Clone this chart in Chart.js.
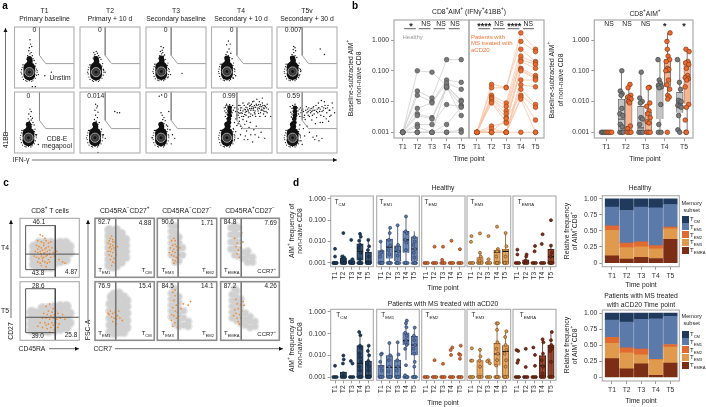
<!DOCTYPE html>
<html>
<head>
<meta charset="utf-8">
<script src="https://cdn.jsdelivr.net/npm/chart.js@4"></script>
<style>
  html, body { margin: 0; padding: 0; background: #fff; }
  #page { position: relative; width: 706px; height: 407px; overflow: hidden; }
  #page canvas { position: absolute; left: 0; top: 0; }
  .lbl { position: absolute; white-space: nowrap; font-family: "Liberation Sans", Arial, sans-serif; color: #222; line-height: 1; z-index: 5; }
  .lbl sup, .lbl sub { font-size: 68%; line-height: 0; }
  .swatch { position: absolute; width: 7.4px; height: 7px; z-index: 5; }
</style>
</head>
<body>
<div id="page"></div>
<script>
// ---------- shared categories / ticks
const timePoints = ["T1", "T2", "T3", "T4", "T5"];
const logTicks = [0.001, 0.01, 0.1, 1];
const fracTicks = [0, 0.25, 0.5, 0.75, 1];
const subsets = ["TCM", "TEM1", "TEM2", "TEM3", "TEMRA"];

// ---------- panel a: events on a 0-100 display scale
const aGate = [[42, 100], [42, 53.5], [52.5, 40], [100, 40]];
const aCentres = [[25, 26], [26.7, 26], [25.5, 27], [25.5, 27], [26, 27], [23.5, 25], [25, 25], [25, 25], [25.5, 25], [26, 25]];
const aBody = [[0, -4], [0, 2], [0, 7]];
const aNeck = [[0, 14], [1, 18], [0, 22]];
const aHalo = [[-13, -3], [-12, -8], [-13, 4], [-12, 8], [-10, -12], [-6, -14], [0, -14], [6, -13], [10, -10], [12, -5], [13, 0], [12, 5], [10, 10], [-9, 12], [-14, 0], [13, 3], [-4, -15], [4, -15], [-11, 12], [11, 14]];

const aT1u = [[26, 79], [27, 72], [25, 66], [29, 68], [24, 61], [28, 58], [26, 56], [30, 53], [22, 53], [27, 50], [24, 49], [31, 48], [21, 47], [29, 46], [33, 45], [62, 26], [51, 20], [35, 2], [30, 2], [40, 22]];
const aT2u = [[27, 60], [29, 57], [25, 55], [31, 53], [24, 52], [28, 51], [33, 50], [22, 49], [30, 48], [35, 47], [26, 47], [39, 30], [42, 26], [23, 58]];
const aT3u = [[25, 68], [29, 66], [27, 62], [24, 60], [28, 58], [26, 56], [31, 54], [23, 53], [29, 52], [27, 49], [32, 47], [22, 48], [60, 24], [41, 22], [37, 18]];
const aT4u = [[28, 77], [31, 72], [25, 71], [29, 64], [26, 59], [32, 57], [24, 55], [28, 53], [30, 50], [23, 49], [34, 48], [27, 47], [0, 24], [40, 20], [36, 16]];
const aT5u = [[28, 68], [30, 66], [27, 63], [31, 61], [28, 58], [25, 55], [30, 53], [23, 51], [33, 50], [27, 49], [72, 64], [79, 55], [40, 28], [37, 20]];
const aT1s = [[26, 72], [28, 68], [24, 64], [27, 60], [30, 57], [23, 56], [28, 54], [25, 52], [31, 50], [21, 49], [29, 47], [33, 46], [25, 46], [37, 30], [40, 14]];
const aT2s = [[26, 80], [29, 77], [28, 74], [25, 70], [30, 67], [26, 62], [29, 58], [24, 55], [27, 52], [32, 50], [22, 48], [30, 47], [58, 68], [62, 66], [66, 66], [39, 30], [42, 24], [30, 1]];
const aT3s = [[22, 93], [26, 95], [27, 62], [25, 66], [30, 58], [28, 55], [32, 53], [26, 50], [30, 48], [36, 44], [24, 47], [34, 46], [40, 38], [44, 30], [48, 24], [42, 15], [10, 25], [38, 68]];
const aT4s = [[26, 44], [28, 47], [24, 50], [30, 49], [27, 53], [25, 56], [31, 55], [28, 58], [23, 60], [29, 61], [33, 60], [26, 63], [31, 65], [24, 66], [28, 67], [34, 66], [22, 69], [27, 70], [32, 71], [25, 72], [36, 70], [29, 74], [23, 75], [33, 75], [27, 77], [38, 74], [30, 79], [25, 80], [35, 78], [21, 74], [26, 52], [30, 59], [27, 64], [31, 73], [24, 78], [29, 69],
  [40, 68], [44, 72], [47, 65], [50, 74], [52, 69], [55, 63], [57, 75], [60, 71], [62, 66], [64, 78], [66, 73], [68, 62], [70, 75], [72, 69], [74, 80], [76, 72], [78, 65], [80, 76], [82, 70], [84, 82], [86, 74], [88, 78], [90, 68], [92, 66], [94, 72], [42, 62], [46, 58], [49, 66], [53, 60], [58, 68], [61, 59], [65, 64], [69, 70], [73, 60], [77, 74], [81, 66], [85, 70], [89, 60], [79, 84], [70, 85], [60, 80], [52, 82], [45, 78], [66, 80], [75, 88], [84, 90], [92, 80], [98, 60], [48, 70], [56, 71], [63, 73], [71, 78], [78, 79], [83, 76], [87, 73],
  [41, 74], [43, 68], [45, 66], [48, 74], [51, 65], [54, 72], [56, 67], [59, 74], [61, 69], [63, 77], [65, 70], [67, 76], [69, 73], [71, 66], [73, 75], [75, 78], [77, 69], [79, 73], [81, 79], [83, 72], [85, 78], [87, 68], [89, 76], [91, 74], [44, 62], [50, 60], [57, 62], [64, 60], [72, 64], [80, 60], [86, 64], [47, 78], [54, 78], [62, 82], [68, 84],
  [38, 50], [42, 45], [46, 52], [50, 40], [55, 47], [58, 36], [62, 42], [65, 30], [70, 38], [74, 44], [78, 26], [82, 34], [88, 24], [60, 22], [48, 30], [44, 24], [40, 35], [68, 18], [56, 28], [36, 40], [34, 30], [38, 22], [52, 55], [58, 52], [64, 50], [44, 48], [40, 56], [48, 44], [72, 30], [54, 22]];
const aT5s = [[27, 44], [29, 48], [25, 51], [31, 50], [26, 55], [30, 57], [24, 59], [28, 60], [32, 61], [25, 64], [29, 66], [33, 65], [23, 67], [27, 69], [31, 71], [35, 69], [25, 73], [29, 75], [34, 74], [26, 78], [30, 80], [37, 72], [22, 76],
  [40, 66], [43, 72], [46, 62], [49, 76], [52, 68], [54, 60], [57, 73], [60, 70], [62, 64], [65, 78], [67, 72], [69, 82], [71, 68], [73, 62], [75, 76], [77, 70], [79, 84], [81, 73], [83, 66], [85, 78], [87, 70], [90, 62], [93, 74], [96, 66], [42, 60], [47, 55], [51, 72], [56, 66], [61, 76], [66, 58], [70, 74], [74, 86], [78, 60], [82, 56], [86, 52], [72, 50], [58, 54], [64, 48], [76, 50], [88, 60], [92, 82], [68, 66],
  [39, 74], [41, 70], [44, 68], [48, 70], [50, 66], [53, 74], [55, 70], [58, 68], [60, 74], [63, 70], [66, 68], [69, 74], [72, 72], [75, 68], [78, 74], [80, 78], [84, 74], [88, 70], [36, 64], [38, 60], [45, 58], [52, 62], [59, 62],
  [38, 46], [44, 40], [50, 44], [54, 34], [46, 28], [40, 20], [60, 26], [63, 22], [66, 28], [70, 20], [75, 24], [36, 32], [42, 14]];
const aColumnStim = [[28, 44], [29, 50], [29, 56], [30, 62], [30, 68], [30, 74]];

// ---------- panel b: one row per donor, T1..T5
const healthyDonors = [
  [0.001, 0.1, 0.09, 0.033, 0.011],
  [0.001, 0.022, 0.013, 0.23, 0.23],
  [0.001, 0.016, 0.01, 0.05, 0.042],
  [0.001, 0.006, 0.009, 0.04, 0.025],
  [0.001, 0.004, 0.003, 0.03, 0.01],
  [0.001, 0.0035, 0.0027, 0.028, 0.0075],
  [0.001, 0.0018, 0.0018, 0.008, 0.007],
  [0.001, 0.0015, 0.001, 0.0018, 0.0065],
  [0.001, 0.001, 0.001, 0.03, 0.0035],
  [0.001, 0.001, 0.001, 0.001, 0.0012],
  [0.001, 0.001, 0.001, 0.001, 0.001]
];
const patientDonors = [
  [0.001, 0.036, 0.029, 1.7, 0.5],
  [0.001, 0.028, 0.028, 0.9, 0.42],
  [0.001, 0.016, 0.009, 0.5, 0.2],
  [0.001, 0.014, 0.007, 0.3, 0.18],
  [0.001, 0.013, 0.005, 0.23, 0.16],
  [0.001, 0.012, 0.004, 0.2, 0.12],
  [0.001, 0.01, 0.003, 0.12, 0.07],
  [0.001, 0.009, 0.0022, 0.11, 0.06],
  [0.001, 0.0016, 0.002, 0.1, 0.055],
  [0.001, 0.0013, 0.001, 0.05, 0.05],
  [0.001, 0.001, 0.001, 0.035, 0.03],
  [0.001, 0.001, 0.001, 0.025, 0.008],
  [0.001, 0.001, 0.0028, 0.016, 0.0065],
  [0.001, 0.001, 0.001, 0.014, 0.0025],
  [0.001, 0.001, 0.001, 0.012, 0.001],
  [0.001, 0.001, 0.001, 0.001, 0.001]
];
const sigLines = [[1.1, 1.9], [2.1, 2.9], [3.1, 3.9], [4.15, 4.9]];
const bBoxHealthy = [[1.78, 0.001, 0.001, 0.0027, 0.012, 0.1], [2.78, 0.001, 0.001, 0.0014, 0.007, 0.09], [3.76, 0.001, 0.0027, 0.03, 0.04, 0.23], [4.78, 0.001, 0.0043, 0.009, 0.02, 0.23]];
const bBoxPatient = [[2.16, 0.001, 0.0011, 0.0015, 0.014, 0.036], [3.16, 0.001, 0.001, 0.002, 0.0045, 0.029], [4.15, 0.012, 0.03, 0.09, 0.23, 1.7], [5.16, 0.001, 0.0085, 0.06, 0.2, 0.5]];
const bDotsHealthy = [[0.75, 0.001], [0.82, 0.001], [0.9, 0.001], [0.97, 0.001],
  [1.8, 0.1], [1.72, 0.022], [1.82, 0.018], [1.76, 0.016], [1.8, 0.006], [1.7, 0.004], [1.85, 0.0035], [1.72, 0.0018], [1.82, 0.0015], [1.7, 0.001], [1.8, 0.001], [1.87, 0.001],
  [2.8, 0.09], [2.72, 0.013], [2.85, 0.01], [2.75, 0.009], [2.78, 0.003], [2.86, 0.0027], [2.72, 0.0018], [2.68, 0.001], [2.78, 0.001], [2.88, 0.001],
  [3.66, 0.23], [3.72, 0.05], [3.78, 0.04], [3.68, 0.033], [3.84, 0.03], [3.72, 0.028], [3.8, 0.008], [3.7, 0.0018], [3.68, 0.001], [3.82, 0.001],
  [4.66, 0.23], [4.76, 0.042], [4.82, 0.025], [4.72, 0.011], [4.85, 0.01], [4.68, 0.0075], [4.78, 0.007], [4.86, 0.0065], [4.72, 0.0035], [4.68, 0.0012], [4.78, 0.001]];
const bDotsPatient = [[1.05, 0.001], [1.12, 0.001], [1.2, 0.001], [1.28, 0.001],
  [2.22, 0.036], [2.12, 0.028], [2.26, 0.016], [2.1, 0.014], [2.2, 0.013], [2.28, 0.012], [2.14, 0.01], [2.2, 0.009], [2.24, 0.0016], [2.1, 0.0013], [2.08, 0.001], [2.18, 0.001], [2.27, 0.001],
  [3.22, 0.029], [3.16, 0.028], [3.24, 0.009], [3.08, 0.007], [3.2, 0.005], [3.14, 0.004], [3.26, 0.003], [3.1, 0.0022], [3.2, 0.002], [3.08, 0.001], [3.17, 0.001], [3.26, 0.001],
  [4.28, 1.7], [4.12, 0.9], [4.14, 0.5], [4.18, 0.3], [4.26, 0.23], [4.08, 0.2], [4.15, 0.12], [4.22, 0.11], [4.06, 0.1], [4.2, 0.05], [4.12, 0.035], [4.26, 0.025], [4.16, 0.016], [4.24, 0.014], [4.16, 0.012], [4.14, 0.001],
  [5.1, 0.5], [5.26, 0.42], [5.2, 0.2], [5.08, 0.18], [5.24, 0.16], [5.12, 0.12], [5.18, 0.07], [5.06, 0.06], [5.22, 0.055], [5.14, 0.05], [5.06, 0.03], [5.24, 0.008], [5.12, 0.0065], [5.06, 0.0025], [5.1, 0.001], [5.12, 0.001]];

// ---------- panel c: cloud centres and AIM+ events on a 0-100 display scale
const cCloudT4 = [[24, 22], [24, 32], [24, 42], [24, 52], [32, 20], [32, 30], [32, 40], [32, 50], [32, 58], [42, 18], [42, 28], [42, 38], [42, 48], [42, 58], [52, 18], [52, 28], [52, 38], [52, 48], [52, 58], [60, 26], [60, 36], [60, 46], [60, 56], [68, 28], [68, 38], [68, 48], [68, 58], [77, 30], [77, 40], [77, 50], [77, 58], [83, 52], [83, 42]];
const cCloudT5 = [[20, 18], [20, 28], [20, 38], [20, 48], [28, 16], [28, 26], [28, 36], [28, 46], [38, 16], [38, 26], [38, 36], [38, 46], [38, 54], [48, 16], [48, 26], [48, 36], [48, 46], [48, 54], [58, 18], [58, 28], [58, 38], [58, 48], [58, 56], [68, 20], [68, 30], [68, 40], [68, 50], [68, 58], [78, 22], [78, 32], [78, 42], [78, 52], [78, 58], [83, 30], [83, 46]];
const cDotsT4 = [[34, 72], [38, 70], [42, 66], [30, 62], [36, 60], [40, 58], [44, 62], [48, 58], [52, 60], [28, 54], [32, 52], [36, 50], [40, 54], [44, 50], [48, 52], [50, 46], [54, 50], [26, 44], [30, 42], [34, 44], [38, 46], [42, 42], [46, 44], [50, 40], [56, 42], [24, 36], [28, 34], [32, 32], [36, 36], [40, 34], [44, 36], [48, 30], [52, 34], [30, 26], [34, 24], [38, 28], [42, 26], [46, 24], [50, 26], [36, 20], [44, 18], [40, 40], [46, 38], [35, 40], [58, 36], [62, 44], [66, 30], [72, 26], [76, 24], [30, 48], [42, 48], [38, 32]];
const cDotsT5 = [[44, 58], [50, 62], [56, 54], [48, 50], [54, 48], [40, 46], [60, 50], [46, 44], [52, 42], [58, 44], [64, 46], [38, 38], [44, 38], [50, 36], [56, 38], [62, 36], [68, 38], [34, 30], [42, 30], [48, 28], [54, 30], [60, 30], [66, 28], [30, 24], [38, 22], [46, 20], [52, 22], [58, 18], [64, 22], [50, 14], [72, 44], [76, 36], [44, 26], [56, 26]];
const cCm1T4 = [[24, 20], [24, 30], [24, 40], [24, 50], [24, 60], [24, 70], [24, 80], [30, 18], [30, 28], [30, 38], [30, 48], [30, 58], [30, 68], [30, 78], [36, 20], [36, 30], [36, 40], [36, 50], [36, 60], [36, 70], [36, 80], [44, 26], [44, 36], [44, 46], [44, 56], [44, 66], [44, 74], [51, 34], [51, 44], [51, 54], [51, 64]];
const cCm1T5 = [[26, 14], [26, 26], [26, 38], [26, 50], [26, 62], [28, 74], [32, 12], [32, 24], [32, 36], [32, 48], [32, 60], [32, 72], [32, 78], [40, 14], [40, 26], [40, 38], [40, 50], [40, 62], [40, 74], [40, 80], [48, 14], [48, 26], [48, 38], [48, 50], [48, 62], [48, 74], [53, 22], [53, 34], [53, 46], [53, 58], [53, 68]];
const cCm2T4 = [[24, 38], [24, 48], [24, 58], [24, 68], [24, 78], [24, 88], [30, 26], [30, 36], [30, 46], [30, 56], [30, 66], [30, 76], [30, 86], [36, 28], [36, 38], [36, 48], [36, 58], [36, 68], [42, 38], [42, 50]];
const cCm2T5 = [[24, 40], [24, 50], [24, 60], [24, 70], [24, 80], [28, 88], [30, 28], [30, 38], [30, 48], [30, 58], [30, 68], [30, 78], [36, 24], [36, 34], [36, 44], [36, 54], [36, 64], [36, 74], [44, 26], [44, 38], [44, 50], [52, 24], [52, 32]];
const cCm3T4 = [[18, 48], [18, 60], [18, 72], [18, 84], [24, 38], [24, 48], [24, 58], [24, 68], [24, 78], [24, 88], [30, 36], [30, 48], [30, 60], [30, 72], [30, 84], [38, 32], [38, 42], [46, 26], [46, 36], [46, 44], [54, 26], [54, 34]];
const cCm3T5 = [[20, 38], [20, 48], [20, 58], [20, 68], [20, 78], [24, 88], [27, 34], [27, 44], [27, 54], [27, 64], [27, 74], [27, 84], [34, 30], [34, 40], [34, 50], [34, 60], [34, 70], [42, 26], [42, 36], [42, 46], [50, 22], [50, 32], [50, 40], [58, 24], [58, 32]];
const cOr1T4 = [[22, 58], [26, 66], [24, 62], [28, 70], [30, 64], [34, 60], [26, 56], [30, 54], [24, 50], [28, 48], [32, 50], [26, 44], [30, 42], [34, 46], [24, 38], [28, 36], [32, 32], [36, 38], [26, 30], [30, 26], [34, 24], [28, 20], [38, 52], [22, 44], [26, 52], [30, 60]];
const cOr1T5 = [[26, 50], [30, 46], [24, 44], [34, 48], [38, 42], [28, 40], [32, 38], [36, 36], [42, 38], [46, 34], [30, 32], [36, 28], [22, 46], [40, 50]];
const cOr2T4 = [[24, 62], [26, 54], [28, 48], [30, 56], [32, 52], [26, 44], [30, 42], [34, 46], [24, 38], [28, 36], [32, 34], [36, 38], [30, 28], [26, 30], [34, 26], [28, 66], [22, 50], [30, 62], [38, 50], [20, 42], [28, 24], [34, 32]];
const cOr2T5 = [[26, 82], [30, 76], [28, 68], [32, 60], [26, 56], [30, 50], [34, 48], [24, 44], [28, 42], [32, 38], [36, 40], [30, 30], [26, 24], [34, 22], [40, 54], [44, 62], [52, 60], [56, 66], [30, 86], [24, 34]];
const cOr3T4 = [[24, 66], [28, 58], [26, 52], [30, 46], [34, 50], [28, 40], [38, 60], [36, 76], [32, 34]];
const cOr3T5 = [[24, 52], [28, 62], [26, 46], [30, 54], [32, 44], [34, 60], [28, 38], [22, 42], [36, 50], [38, 66], [30, 32], [34, 38], [40, 60], [26, 70], [32, 28]];
const cGateFirstT4 = [[9.5, 13], [9.5, 87.6], [59.5, 87.6], [59.5, 0], [NaN, NaN], [9.5, 39.3], [100, 39.3], [NaN, NaN], [9.5, 13], [59.5, 13]];
const cGateFirstT5 = [[9.5, 13], [9.5, 88], [59.5, 88], [59.5, 0], [NaN, NaN], [9.5, 39.3], [100, 39.3], [NaN, NaN], [9.5, 13], [59.5, 13]];
const cGateSplit = [[35, 0], [35, 100]];

// ---------- panel d: box rows are [time, low, q1, median, q3, high], dots are [x, value]
const flatRows = [1, 2, 3, 4, 5];
const hCmBox = [[1, 0.001, 0.001, 0.001, 0.001, 0.001], [2, 0.001, 0.001, 0.0012, 0.0017, 0.0025], [3, 0.001, 0.001, 0.001, 0.0013, 0.0015], [4, 0.001, 0.0013, 0.0035, 0.0078, 0.023], [5, 0.001, 0.001, 0.0012, 0.0032, 0.012]];
const hCmDots = [[0.85, 0.001], [1, 0.001], [1.15, 0.001], [1, 0.002], [1, 0.0046], [2, 0.025], [1.85, 0.002], [2.1, 0.0018], [2.1, 0.0015], [1.9, 0.0012], [2, 0.001], [2.2, 0.001], [3, 0.001], [3.2, 0.001], [2.85, 0.0012], [3.1, 0.0015], [2.95, 0.012], [4, 0.023], [4.1, 0.017], [3.9, 0.011], [4, 0.007], [3.85, 0.005], [4.1, 0.003], [4, 0.0015], [3.9, 0.001], [4.15, 0.001], [5, 0.012], [5.1, 0.006], [4.95, 0.004], [5.05, 0.002], [4.9, 0.001], [5.15, 0.001]];
const hEm1Box = [[1, 0.001, 0.001, 0.001, 0.0038, 0.01], [2, 0.001, 0.0016, 0.0055, 0.013, 0.044], [3, 0.001, 0.0012, 0.0035, 0.0063, 0.058], [4, 0.001, 0.003, 0.012, 0.03, 0.15], [5, 0.001, 0.0012, 0.0045, 0.0166, 0.03]];
const hEm1Dots = [[0.95, 0.01], [1.1, 0.0035], [1, 0.003], [0.9, 0.002], [1, 0.001], [1.15, 0.001], [2.1, 0.044], [2.05, 0.025], [1.95, 0.012], [2.1, 0.0065], [1.9, 0.004], [2, 0.0025], [2, 0.001], [3, 0.058], [3.05, 0.007], [2.9, 0.005], [3.1, 0.0035], [3, 0.0022], [2.95, 0.001], [4, 0.15], [3.95, 0.03], [4.1, 0.025], [3.9, 0.012], [4.05, 0.009], [4, 0.004], [3.95, 0.001], [5, 0.016], [5.05, 0.01], [4.9, 0.007], [5.1, 0.0045], [4.95, 0.003], [5, 0.0018], [5.1, 0.001]];
const hEm2Dots = [[2, 0.0058], [3, 0.0058], [2.9, 0.0014], [4, 0.011], [5, 0.0044]];
const hEm3Box = [[1, 0.001, 0.001, 0.001, 0.001, 0.001], [2, 0.001, 0.001, 0.001, 0.0018, 0.003], [3, 0.001, 0.001, 0.001, 0.001, 0.001], [4, 0.001, 0.001, 0.0032, 0.004, 0.0045], [5, 0.001, 0.001, 0.0035, 0.0045, 0.025]];
const hEm3Dots = [[1, 0.018], [0.95, 0.0098], [2, 0.024], [2, 0.003], [2.1, 0.002], [1.95, 0.0013], [3, 0.018], [3, 0.0015], [4, 0.05], [4.1, 0.0045], [4, 0.0035], [3.9, 0.002], [4, 0.001], [5, 0.025], [5.1, 0.006], [5, 0.002], [4.9, 0.001]];
const hEmraBox = [[1, 0.001, 0.001, 0.001, 0.001, 0.001], [2, 0.001, 0.001, 0.001, 0.0014, 0.0018], [3, 0.001, 0.001, 0.001, 0.001, 0.001], [4, 0.001, 0.001, 0.001, 0.001, 0.001], [5, 0.001, 0.001, 0.002, 0.0044, 0.0065]];
const hEmraDots = [[1, 0.0042], [1, 0.0025], [2.1, 0.0025], [2.05, 0.002], [2, 0.0013], [3.1, 0.0062], [3.05, 0.0035], [4, 0.022], [3.9, 0.0078], [5, 0.1], [5, 0.0065], [5.1, 0.003], [4.95, 0.002], [5, 0.001]];
const pCmBox = [[1, 0.001, 0.001, 0.001, 0.001, 0.001], [2, 0.001, 0.001, 0.001, 0.0017, 0.0017], [3, 0.001, 0.001, 0.001, 0.001, 0.001], [4, 0.001, 0.001, 0.0042, 0.028, 0.12], [5, 0.001, 0.001, 0.0012, 0.0055, 0.028]];
const pCmDots = [[1, 0.0033], [2, 0.0098], [2.05, 0.0065], [1.95, 0.0042], [2, 0.0015], [2.9, 0.0055], [3.1, 0.0042], [3.9, 0.12], [4.05, 0.085], [4, 0.028], [4.1, 0.022], [3.95, 0.012], [4, 0.008], [4.1, 0.005], [3.9, 0.003], [4, 0.002], [4.05, 0.001], [5.05, 0.028], [4.95, 0.016], [5.1, 0.01], [5, 0.0055], [4.9, 0.004], [5.05, 0.003], [5, 0.002], [4.9, 0.001], [5.1, 0.001]];
const pEm1Box = [[1, 0.001, 0.001, 0.001, 0.0035, 0.011], [2, 0.001, 0.001, 0.0028, 0.0098, 0.037], [3, 0.001, 0.001, 0.0028, 0.006, 0.04], [4, 0.006, 0.03, 0.048, 0.11, 0.4], [5, 0.001, 0.01, 0.03, 0.075, 0.19]];
const pEm1Dots = [[1.1, 0.012], [1, 0.011], [0.9, 0.005], [1, 0.003], [1.1, 0.002], [0.95, 0.001], [2, 0.037], [2.1, 0.01], [1.95, 0.006], [2, 0.003], [1.9, 0.0018], [2.1, 0.001], [3, 0.04], [3.1, 0.011], [2.95, 0.006], [3.05, 0.003], [2.9, 0.002], [3, 0.001], [4.1, 0.4], [4, 0.3], [4.05, 0.2], [3.9, 0.11], [4.1, 0.08], [4, 0.05], [3.95, 0.04], [4.1, 0.03], [3.9, 0.02], [4, 0.0035], [3.9, 0.0012], [4.1, 0.001], [5.05, 0.19], [4.95, 0.08], [5, 0.05], [5.1, 0.03], [4.9, 0.02], [5, 0.012], [5.05, 0.005], [5, 0.003], [5, 0.001]];
const pEm2Dots = [[2, 0.006], [3, 0.0041], [3.9, 0.0175], [3.95, 0.0105], [4.1, 0.023], [5.1, 0.028], [4.9, 0.0115], [5.05, 0.0105], [5, 0.007]];
const pEm3Box = [[1, 0.001, 0.001, 0.001, 0.001, 0.001], [2, 0.001, 0.001, 0.001, 0.0057, 0.018], [3, 0.001, 0.001, 0.001, 0.001, 0.001], [4, 0.001, 0.0034, 0.0115, 0.036, 0.3], [5, 0.001, 0.001, 0.015, 0.028, 0.13]];
const pEm3Dots = [[1.05, 0.021], [0.95, 0.0057], [1.1, 0.0057], [2, 0.018], [2.05, 0.009], [1.95, 0.0057], [2, 0.003], [3, 0.006], [2.85, 0.0053], [3.15, 0.0043], [3.95, 0.3], [4.1, 0.3], [4, 0.15], [4.05, 0.04], [3.95, 0.02], [4.1, 0.012], [4, 0.006], [3.9, 0.0034], [4, 0.001], [5.1, 0.13], [4.95, 0.07], [5, 0.03], [5.1, 0.018], [4.9, 0.012], [5.05, 0.006], [5, 0.003], [4.95, 0.001]];
const pEmraBox = [[1, 0.001, 0.001, 0.001, 0.001, 0.001], [2, 0.001, 0.001, 0.001, 0.001, 0.001], [3, 0.001, 0.001, 0.001, 0.001, 0.001], [4, 0.001, 0.001, 0.0033, 0.0098, 0.055], [5, 0.001, 0.001, 0.023, 0.03, 0.12]];
const pEmraDots = [[0.9, 0.0175], [1.1, 0.016], [1.1, 0.006], [1, 0.0045], [2, 0.02], [2, 0.0029], [2.9, 0.023], [3.1, 0.0105], [3.1, 0.0033], [4, 0.055], [4.1, 0.04], [4.05, 0.012], [3.9, 0.006], [4.05, 0.003], [4, 0.0015], [5.1, 0.12], [5, 0.05], [5.05, 0.03], [4.95, 0.024], [5.1, 0.02], [4.9, 0.016], [5, 0.005]];

// stacked frequencies, one array per subset, T1..T5
const hTcm = [0.13, 0.18, 0.13, 0.14, 0.09];
const hTem1 = [0.29, 0.51, 0.54, 0.59, 0.35];
const hTem2 = [0.07, 0.07, 0.08, 0.05, 0.03];
const hTem3 = [0.40, 0.18, 0.16, 0.15, 0.16];
const hTemra = [0.11, 0.06, 0.09, 0.07, 0.37];
const pTcm = [0.11, 0.14, 0.10, 0.09, 0.05];
const pTem1 = [0.27, 0.40, 0.46, 0.63, 0.44];
const pTem2 = [0.09, 0.08, 0.09, 0.01, 0.04];
const pTem3 = [0.24, 0.25, 0.14, 0.24, 0.25];
const pTemra = [0.29, 0.13, 0.21, 0.03, 0.22];

// ---------- colours
const GREY_DOT = "#7a7a7a", GREY_LINE = "#cfcfcf", ORANGE = "#ee6a2c", ORANGE_LINE = "#f9c4a6";
const subsetColour = { TCM: "#1f3a5c", TEM1: "#5b79a9", TEM2: "#e06a2f", TEM3: "#df9a4e", TEMRA: "#7b2d16" };
const subsetEdge = { TCM: "#16293f", TEM1: "#2f4468", TEM2: "#7a3d20", TEM3: "#7a4a20", TEMRA: "#4b1a0c" };

Chart.defaults.font.family = '"Liberation Sans", Arial, sans-serif';
Chart.defaults.font.size = 6.8;
Chart.defaults.color = "#333";

const panelBorder = {
  id: "panelBorder",
  afterDraw(chart, args, opts) {
    if (!opts.width) return;
    const { left, top, width, height } = chart.chartArea;
    const c = chart.ctx;
    c.save();
    c.strokeStyle = opts.color || "#aaa";
    c.lineWidth = opts.width;
    c.strokeRect(left, top, width, height);
    c.restore();
  }
};

const page = document.getElementById("page");
const pts = a => a.map(([x, y]) => ({ x, y }));
// room kept for tick labels: Chart.js clips them to the scale box
const Y_ROOM = 30, X_ROOM = 20;

function hiddenAxis(min, max) {
  return { type: "linear", min, max, display: false };
}
function xTimeAxis(min, max, rotated) {
  return {
    type: "linear", min, max,
    offset: false, // bar datasets switch this on by default and squeeze the ticks
    afterFit: s => { s.height = X_ROOM; },
    afterBuildTicks: s => { s.ticks = timePoints.map((_, i) => ({ value: i + 1 })); },
    border: { display: false },
    grid: { offset: false, drawOnChartArea: false, tickLength: 3, color: "#555", lineWidth: 0.6 },
    ticks: { autoSkip: false, padding: 2, minRotation: rotated ? 90 : 0, maxRotation: rotated ? 90 : 0, callback: v => timePoints[v - 1] }
  };
}
function yValueAxis(type, min, max, tickList, digits, show) {
  return {
    type, min, max,
    display: show,
    afterFit: s => { s.width = show ? Y_ROOM : 0; },
    afterBuildTicks: s => { s.ticks = tickList.map(value => ({ value })); },
    border: { display: false },
    grid: { drawOnChartArea: false, tickLength: 3, color: "#555", lineWidth: 0.6 },
    ticks: { autoSkip: false, padding: 2, callback: v => v.toFixed(digits) }
  };
}

// every panel is a chart whose plot area is placed with layout padding
function panel(x0, y0, x1, y1, datasets, scales, borderWidth, borderColour) {
  const canvas = document.createElement("canvas");
  canvas.width = 706;
  canvas.height = 407;
  page.appendChild(canvas);
  const leftRoom = scales.y.display === false ? 0 : Y_ROOM;
  const bottomRoom = scales.x.display === false ? 0 : X_ROOM;
  return new Chart(canvas, {
    type: "scatter",
    data: { datasets },
    options: {
      responsive: false,
      animation: false,
      layout: { padding: { left: x0 - leftRoom, top: y0, right: 706 - x1, bottom: 407 - y1 - bottomRoom } },
      scales,
      plugins: { legend: { display: false }, tooltip: { enabled: false }, panelBorder: { width: borderWidth, color: borderColour } }
    },
    plugins: [panelBorder]
  });
}

const dots = (data, colour, radius, edge, order, edgeWidth) => ({
  data: pts(data), showLine: false, pointRadius: radius, pointBackgroundColor: colour,
  pointBorderColor: edge || colour, pointBorderWidth: edgeWidth === undefined ? (edge ? 0.7 : 0) : edgeWidth, order: order || 0
});
const lineSet = (data, colour, width, order) => ({
  data: pts(data), showLine: true, pointRadius: 0, borderColor: colour, borderWidth: width, spanGaps: false, order: order === undefined ? 1 : order
});

// box + whisker + median out of a floating bar and line segments
function boxSets(rows, boxWidthPx, halfX, fill, edge, medColour) {
  const whisk = [], med = [];
  rows.forEach(([x, lo, q1, m, q3, hi]) => {
    whisk.push([x, lo], [x, hi], [NaN, NaN]);
    med.push([x - halfX, m], [x + halfX, m], [NaN, NaN]);
  });
  return [
    lineSet(whisk, edge, 0.8, 6),
    {
      type: "bar", grouped: false, barThickness: boxWidthPx, order: 5,
      data: rows.map(([x, lo, q1, m, q3]) => ({ x, y: [q1, q3] })),
      backgroundColor: fill, borderColor: edge, borderWidth: 0.7
    },
    lineSet(med, medColour || edge, 1.2, 4)
  ];
}

function shift(list, c) {
  return list.map(([dx, dy]) => [c[0] + dx, c[1] + dy]);
}

// ---------- panel a
const aEvents = [aT1u, aT2u, aT3u, aT4u, aT5u, aT1s, aT2s, aT3s, aT4s, aT5s];
const aX = [[14.5, 74], [80, 140], [146, 206], [211.5, 272], [277, 337]];
const aY = [[27, 88], [92, 153]];
aEvents.forEach((events, i) => {
  const [x0, x1] = aX[i % 5];
  const [y0, y1] = aY[i < 5 ? 0 : 1];
  const c = aCentres[i];
  const body = dots(shift(aBody, c), "#111", 6, null, 6);
  const neck = dots(shift(aNeck, c), "#111", 2.7, null, 5);
  const ring = dots([c], "#3a3a3a", 4.6, "#a0a0a0", 4, 1);
  const inner = dots([c], "#111", 2, "#666", 3, 0.6);
  const column = i >= 8 ? [dots(aColumnStim, "#111", 2.3, null, 7)] : [];
  panel(x0, y0, x1, y1, [
    lineSet(aGate, "#888", 0.8, 0),
    dots(events, "#111", 0.7, null, 1),
    dots(shift(aHalo, c), "#111", 0.6, null, 2),
    inner, ring, neck, body, ...column
  ], { x: hiddenAxis(0, 100), y: hiddenAxis(0, 100) }, 1.1, "#b0b0b0");
});

// ---------- panel b
const bLogMin = 0.000653, bLogMax = 4.47;
const donorLines = (rows, colour, order) => rows.map(r => lineSet(r.map((v, i) => [i + 1, v]), colour, 0.8, order));
const donorDots = rows => rows.flatMap(r => r.map((v, i) => [i + 1, v]));
const sigSeg = sigLines.flatMap(([a, b]) => [[a, 2.33], [b, 2.33], [NaN, NaN]]);

panel(394, 20, 469, 138, [
  lineSet(sigSeg, "#333", 0.8, 0),
  dots(donorDots(healthyDonors), GREY_DOT, 2.3, "#555", 1),
  ...donorLines(healthyDonors, GREY_LINE, 2)
], { x: xTimeAxis(0.406, 5.53), y: yValueAxis("logarithmic", bLogMin, bLogMax, logTicks, 3, true) }, 1.2, "#aaa");
panel(469, 20, 544, 138, [
  lineSet(sigSeg, "#333", 0.8, 0),
  dots(donorDots(patientDonors), ORANGE, 2.3, "#9a4a22", 1),
  ...donorLines(patientDonors, ORANGE_LINE, 2)
], { x: xTimeAxis(0.46, 5.58), y: yValueAxis("logarithmic", bLogMin, bLogMax, logTicks, 3, false) }, 1.2, "#aaa");
panel(594.3, 20, 693, 138, [
  dots(bDotsPatient, ORANGE, 2.3, "#7a3a1c", 1),
  dots(bDotsHealthy, GREY_DOT, 2.3, "#444", 2),
  ...boxSets(bBoxHealthy, 6.5, 0.16, "#c4c4c4", "#555"),
  ...boxSets(bBoxPatient, 6.5, 0.16, "#f7b48e", "#555")
], { x: xTimeAxis(0.385, 5.46), y: yValueAxis("logarithmic", bLogMin, bLogMax, logTicks, 3, true) }, 1.2, "#aaa");

// ---------- panel c
const cY = [[218.3, 277.3], [281.7, 340.3]];
const cX = [[20, 79.3], [95, 154.3], [157.3, 216.7], [220.7, 279.3]];
const cPanels = [
  [cCloudT4, cDotsT4, cGateFirstT4, cCloudT5, cDotsT5, cGateFirstT5, 4.4],
  [cCm1T4, cOr1T4, cGateSplit, cCm1T5, cOr1T5, cGateSplit, 4],
  [cCm2T4, cOr2T4, cGateSplit, cCm2T5, cOr2T5, cGateSplit, 3],
  [cCm3T4, cOr3T4, cGateSplit, cCm3T5, cOr3T5, cGateSplit, 3]
];
cPanels.forEach(([cloud4, or4, gate4, cloud5, or5, gate5, r], col) => {
  const [x0, x1] = cX[col];
  const gateW = col === 0 ? 0.9 : 1.6, gateC = col === 0 ? "#444" : "#777";
  [[cloud4, or4, gate4], [cloud5, or5, gate5]].forEach(([cloud, orange, gate], row) => {
    panel(x0, cY[row][0], x1, cY[row][1], [
      lineSet(gate, gateC, gateW, 0),
      dots(orange, "#f28a2e", 0.85, null, 1),
      dots(cloud, "#d0d0d0", r, null, 3),
      dots(cloud, "#e7e7e7", r + 1.5, null, 4)
    ], { x: hiddenAxis(0, 100), y: hiddenAxis(0, 100) }, col === 0 ? 1.1 : 1.6, col === 0 ? "#aaa" : "#8c8c8c");
  });
});

// ---------- panel d boxes
const flatBoxes = flatRows.map(t => [t, 0.001, 0.001, 0.001, 0.001, 0.001]);
const flatDots = flatRows.flatMap(t => [[t - 0.2, 0.001], [t, 0.001], [t + 0.2, 0.001]]);
const dFacetX = [[330.7, 373.3], [376.7, 419.3], [421.7, 465], [467, 510.7], [513, 556]];
const dRows = [
  { y0: 196, y1: 266.7, min: 0.00067, max: 1.35, boxes: [hCmBox, hEm1Box, flatBoxes, hEm3Box, hEmraBox], dotsList: [hCmDots, hEm1Dots, hEm2Dots, hEm3Dots, hEmraDots] },
  { y0: 309.3, y1: 380.3, min: 0.000705, max: 1.33, boxes: [pCmBox, pEm1Box, flatBoxes, pEm3Box, pEmraBox], dotsList: [pCmDots, pEm1Dots, pEm2Dots, pEm3Dots, pEmraDots] }
];
dRows.forEach(r => {
  subsets.forEach((name, i) => {
    const [x0, x1] = dFacetX[i];
    const fill = subsetColour[name] + "d9";
    panel(x0, r.y0, x1, r.y1, [
      dots(r.dotsList[i], subsetColour[name], 1.5, subsetEdge[name], 1),
      dots(flatDots, subsetColour[name], 1.5, subsetEdge[name], 2),
      ...boxSets(r.boxes[i], 6.4, 0.36, fill, subsetEdge[name], "#1a1a1a")
    ], { x: xTimeAxis(0.48, 5.6, true), y: yValueAxis("logarithmic", r.min, r.max, logTicks, 3, i === 0) }, 1.1, "#aaa");
  });
});

// ---------- panel d stacked bars
const stackSets = lists => lists.map(([name, values]) => ({
  type: "bar", label: name, stack: "s", barThickness: 13.6,
  data: values.map((y, i) => ({ x: i + 1, y })),
  backgroundColor: subsetColour[name]
}));
const stackedScales = () => {
  const x = xTimeAxis(0.336, 5.61);
  const y = yValueAxis("linear", -0.0575, 1.047, fracTicks, 2, true);
  y.ticks.callback = v => (v === 0 ? "0" : v.toFixed(2));
  x.stacked = true;
  y.stacked = true;
  return { x, y };
};
panel(602.3, 195.7, 679.3, 266.7, stackSets([["TEMRA", hTemra], ["TEM3", hTem3], ["TEM2", hTem2], ["TEM1", hTem1], ["TCM", hTcm]]), stackedScales(), 1.1, "#aaa");
panel(602.3, 310, 679.3, 381, stackSets([["TEMRA", pTemra], ["TEM3", pTem3], ["TEM2", pTem2], ["TEM1", pTem1], ["TCM", pTcm]]), stackedScales(), 1.1, "#aaa");

// ---------- text
function t(html, x, y, o = {}) {
  const d = document.createElement("div");
  d.className = "lbl";
  d.innerHTML = html;
  d.style.left = x + "px";
  d.style.top = y + "px";
  d.style.fontSize = (o.size || 6.8) + "px";
  if (o.color) d.style.color = o.color;
  if (o.bold) d.style.fontWeight = "bold";
  const ax = o.align === "left" ? "0" : "-50%";
  d.style.transform = `translate(${ax},-50%)` + (o.rot ? ` rotate(${o.rot}deg)` : "");
  page.appendChild(d);
}
[["a", 5, 6], ["b", 355, 6], ["c", 6, 183], ["d", 296, 183]].forEach(([s, x, y]) => t(s, x, y, { size: 10, bold: true, color: "#000" }));

[["T1", "Primary baseline", 44.5], ["T2", "Primary + 10 d", 110], ["T3", "Secondary baseline", 176], ["T4", "Secondary + 10 d", 241], ["T5v", "Secondary + 30 d", 307]].forEach(([a, b, x]) => {
  t(a, x, 10.7); t(b, x, 18.7);
});
[["0", 34.3, 30], ["0", 100, 30], ["0", 165.7, 30], ["0", 231.7, 30], ["0.007", 293.3, 30], ["0", 28.3, 95.7], ["0.014", 95.7, 95.7], ["0", 165.7, 95.7], ["0.99", 229, 95.7], ["0.59", 293.3, 95.7]].forEach(([s, x, y]) => t(s, x, y));
t("Unstim", 60, 78); t("CD8-E", 57, 138.5); t("megapool", 57, 145.7);
t("41BB", 6, 140, { rot: -90 }); t("IFN-γ", 21, 160);

t("CD8<sup>+</sup>AIM<sup>+</sup> (IFNγ<sup>+</sup>41BB<sup>+</sup>)", 469, 12);
t("CD8<sup>+</sup>AIM<sup>+</sup>", 645, 14);
t("Baseline-subtracted AIM<sup>+</sup>", 351, 78, { rot: -90 }); t("of non-naive CD8", 359, 78, { rot: -90 });
t("Baseline-subtracted AIM<sup>+</sup>", 552, 80, { rot: -90 }); t("of non-naive CD8", 561, 80, { rot: -90 });
t("Time point", 469, 158.7); t("Time point", 645, 158.7);
t("Healthy", 412.7, 36.7, { color: "#999", size: 6 });
["Patients with", "MS treated with", "aCD20"].forEach((s, i) => t(s, 471, 36.7 + i * 6.7, { color: "#f0763a", size: 6, align: "left" }));
[["*", 411], ["NS", 426], ["NS", 441], ["NS", 455], ["****", 484.3], ["NS", 499], ["****", 514.3], ["NS", 528.3], ["NS", 609], ["NS", 627], ["NS", 645.7], ["*", 664.7], ["*", 684]].forEach(([s, x]) => {
  if (s === "NS") t(s, x, 24.3);
  else t(s, x, 25.5, { size: 9, bold: true });
});

t("CD8<sup>+</sup> T cells", 50, 211);
t("CD45RA<sup>−</sup>CD27<sup>+</sup>", 124.7, 211); t("CD45RA<sup>−</sup>CD27<sup>−</sup>", 187, 211); t("CD45RA<sup>+</sup>CD27<sup>−</sup>", 250, 211);
t("T4", 5, 247.7); t("T5", 5, 311);
t("CD27", 11, 331, { rot: -90 }); t("CD45RA", 32, 348.7); t("FSC-A", 88, 330, { rot: -90 }); t("CCR7", 102.7, 348.7);
[["46.1", 39, 222], ["43.8", 38, 272.7], ["4.87", 71.3, 272], ["28.6", 38.3, 285.7], ["39.0", 37.7, 336], ["25.8", 71, 335],
 ["92.7", 104.3, 222.3], ["4.88", 145, 223], ["76.9", 104.3, 285.7], ["15.4", 145, 286],
 ["90.6", 167.7, 222], ["1.71", 207.3, 223], ["84.5", 167.7, 285.7], ["14.1", 207.3, 286],
 ["84.8", 230, 222], ["7.69", 270.7, 223], ["87.2", 230, 285.7], ["4.26", 270.7, 286]].forEach(([s, x, y]) => t(s, x, y, { size: 6.4 }));
[269.7, 333.3].forEach(y => {
  t("T<sub>EM1</sub>", 104.3, y, { size: 6 }); t("T<sub>CM</sub>", 146.7, y, { size: 6 });
  t("T<sub>EM3</sub>", 167.7, y, { size: 6 }); t("T<sub>EM2</sub>", 208, y, { size: 6 });
  t("T<sub>EMRA</sub>", 231.7, y, { size: 6 }); t("CCR7<sup>+</sup>", 266.7, y + 1, { size: 6 });
});

t("Healthy", 443, 188.3); t("Patients with MS treated with aCD20", 443, 303.7);
t("AIM<sup>+</sup> frequency of", 292, 231, { rot: -90 }); t("non-naive CD8", 300, 231, { rot: -90 });
t("AIM<sup>+</sup> frequency of", 292, 345, { rot: -90 }); t("non-naive CD8", 300, 345, { rot: -90 });
t("Time point", 443, 287.7); t("Time point", 443, 403);
[[340, 202, 341.7, 315, "CM"], [386, 202, 387.7, 315, "EM1"], [431, 202, 432, 315, "EM2"], [477, 202, 478, 315, "EM3"], [526, 202, 528, 315, "EMRA"]].forEach(([x1, y1, x2, y2, s]) => {
  t(`T<sub>${s}</sub>`, x1, y1, { size: 6.4 }); t(`T<sub>${s}</sub>`, x2, y2, { size: 6.4 });
});

t("Healthy", 640, 188.3); t("Patients with MS treated", 641, 295.7); t("with aCD20 Time point", 641, 304.7);
t("Relative frequency", 567.3, 231, { rot: -90 }); t("of AIM<sup>+</sup>CD8<sup>+</sup>", 575, 231, { rot: -90 });
t("Relative frequency", 567.3, 345, { rot: -90 }); t("of AIM<sup>+</sup>CD8<sup>+</sup>", 575, 345, { rot: -90 });
t("Time point", 641, 284.7); t("Time point", 641, 401);

// memory subset legend, same names and colours as the stacks
[[204.3, 215.7], [317.3, 330.7]].forEach(([titleY, swatchY]) => {
  t("Memory", 691.7, titleY, { size: 5.6 }); t("subset", 691.7, titleY + 6.4, { size: 5.6 });
  subsets.forEach((name, i) => {
    const s = document.createElement("div");
    s.className = "swatch";
    s.style.left = "681.5px";
    s.style.top = swatchY + i * 7.7 + "px";
    s.style.background = subsetColour[name];
    page.appendChild(s);
    t(`T<sub>${name.slice(1)}</sub>`, 690, swatchY + i * 7.7 + 3.5, { size: 6, align: "left" });
  });
});

// axis arrows of the cytometry panels
const arrowList = [[5.5, 133, 5.5, 28], [32, 160, 337, 160], [11, 318, 11, 220], [49, 348.7, 79, 348.7], [88, 320, 88, 220], [115, 348.7, 283, 348.7]];
const ns = "http://www.w3.org/2000/svg";
const svg = document.createElementNS(ns, "svg");
svg.setAttribute("width", 706);
svg.setAttribute("height", 407);
svg.style.cssText = "position:absolute;left:0;top:0;z-index:4";
arrowList.forEach(([x1, y1, x2, y2]) => {
  const l = document.createElementNS(ns, "line");
  Object.entries({ x1, y1, x2, y2, stroke: "#333", "stroke-width": 0.7 }).forEach(([k, v]) => l.setAttribute(k, v));
  svg.appendChild(l);
  const h = document.createElementNS(ns, "polygon");
  const p = x1 === x2 ? `${x2},${y2} ${x2 - 2},${y2 + 4} ${x2 + 2},${y2 + 4}` : `${x2},${y2} ${x2 - 4},${y2 - 2} ${x2 - 4},${y2 + 2}`;
  h.setAttribute("points", p);
  h.setAttribute("fill", "#111");
  svg.appendChild(h);
});
page.appendChild(svg);
</script>
</body>
</html>
